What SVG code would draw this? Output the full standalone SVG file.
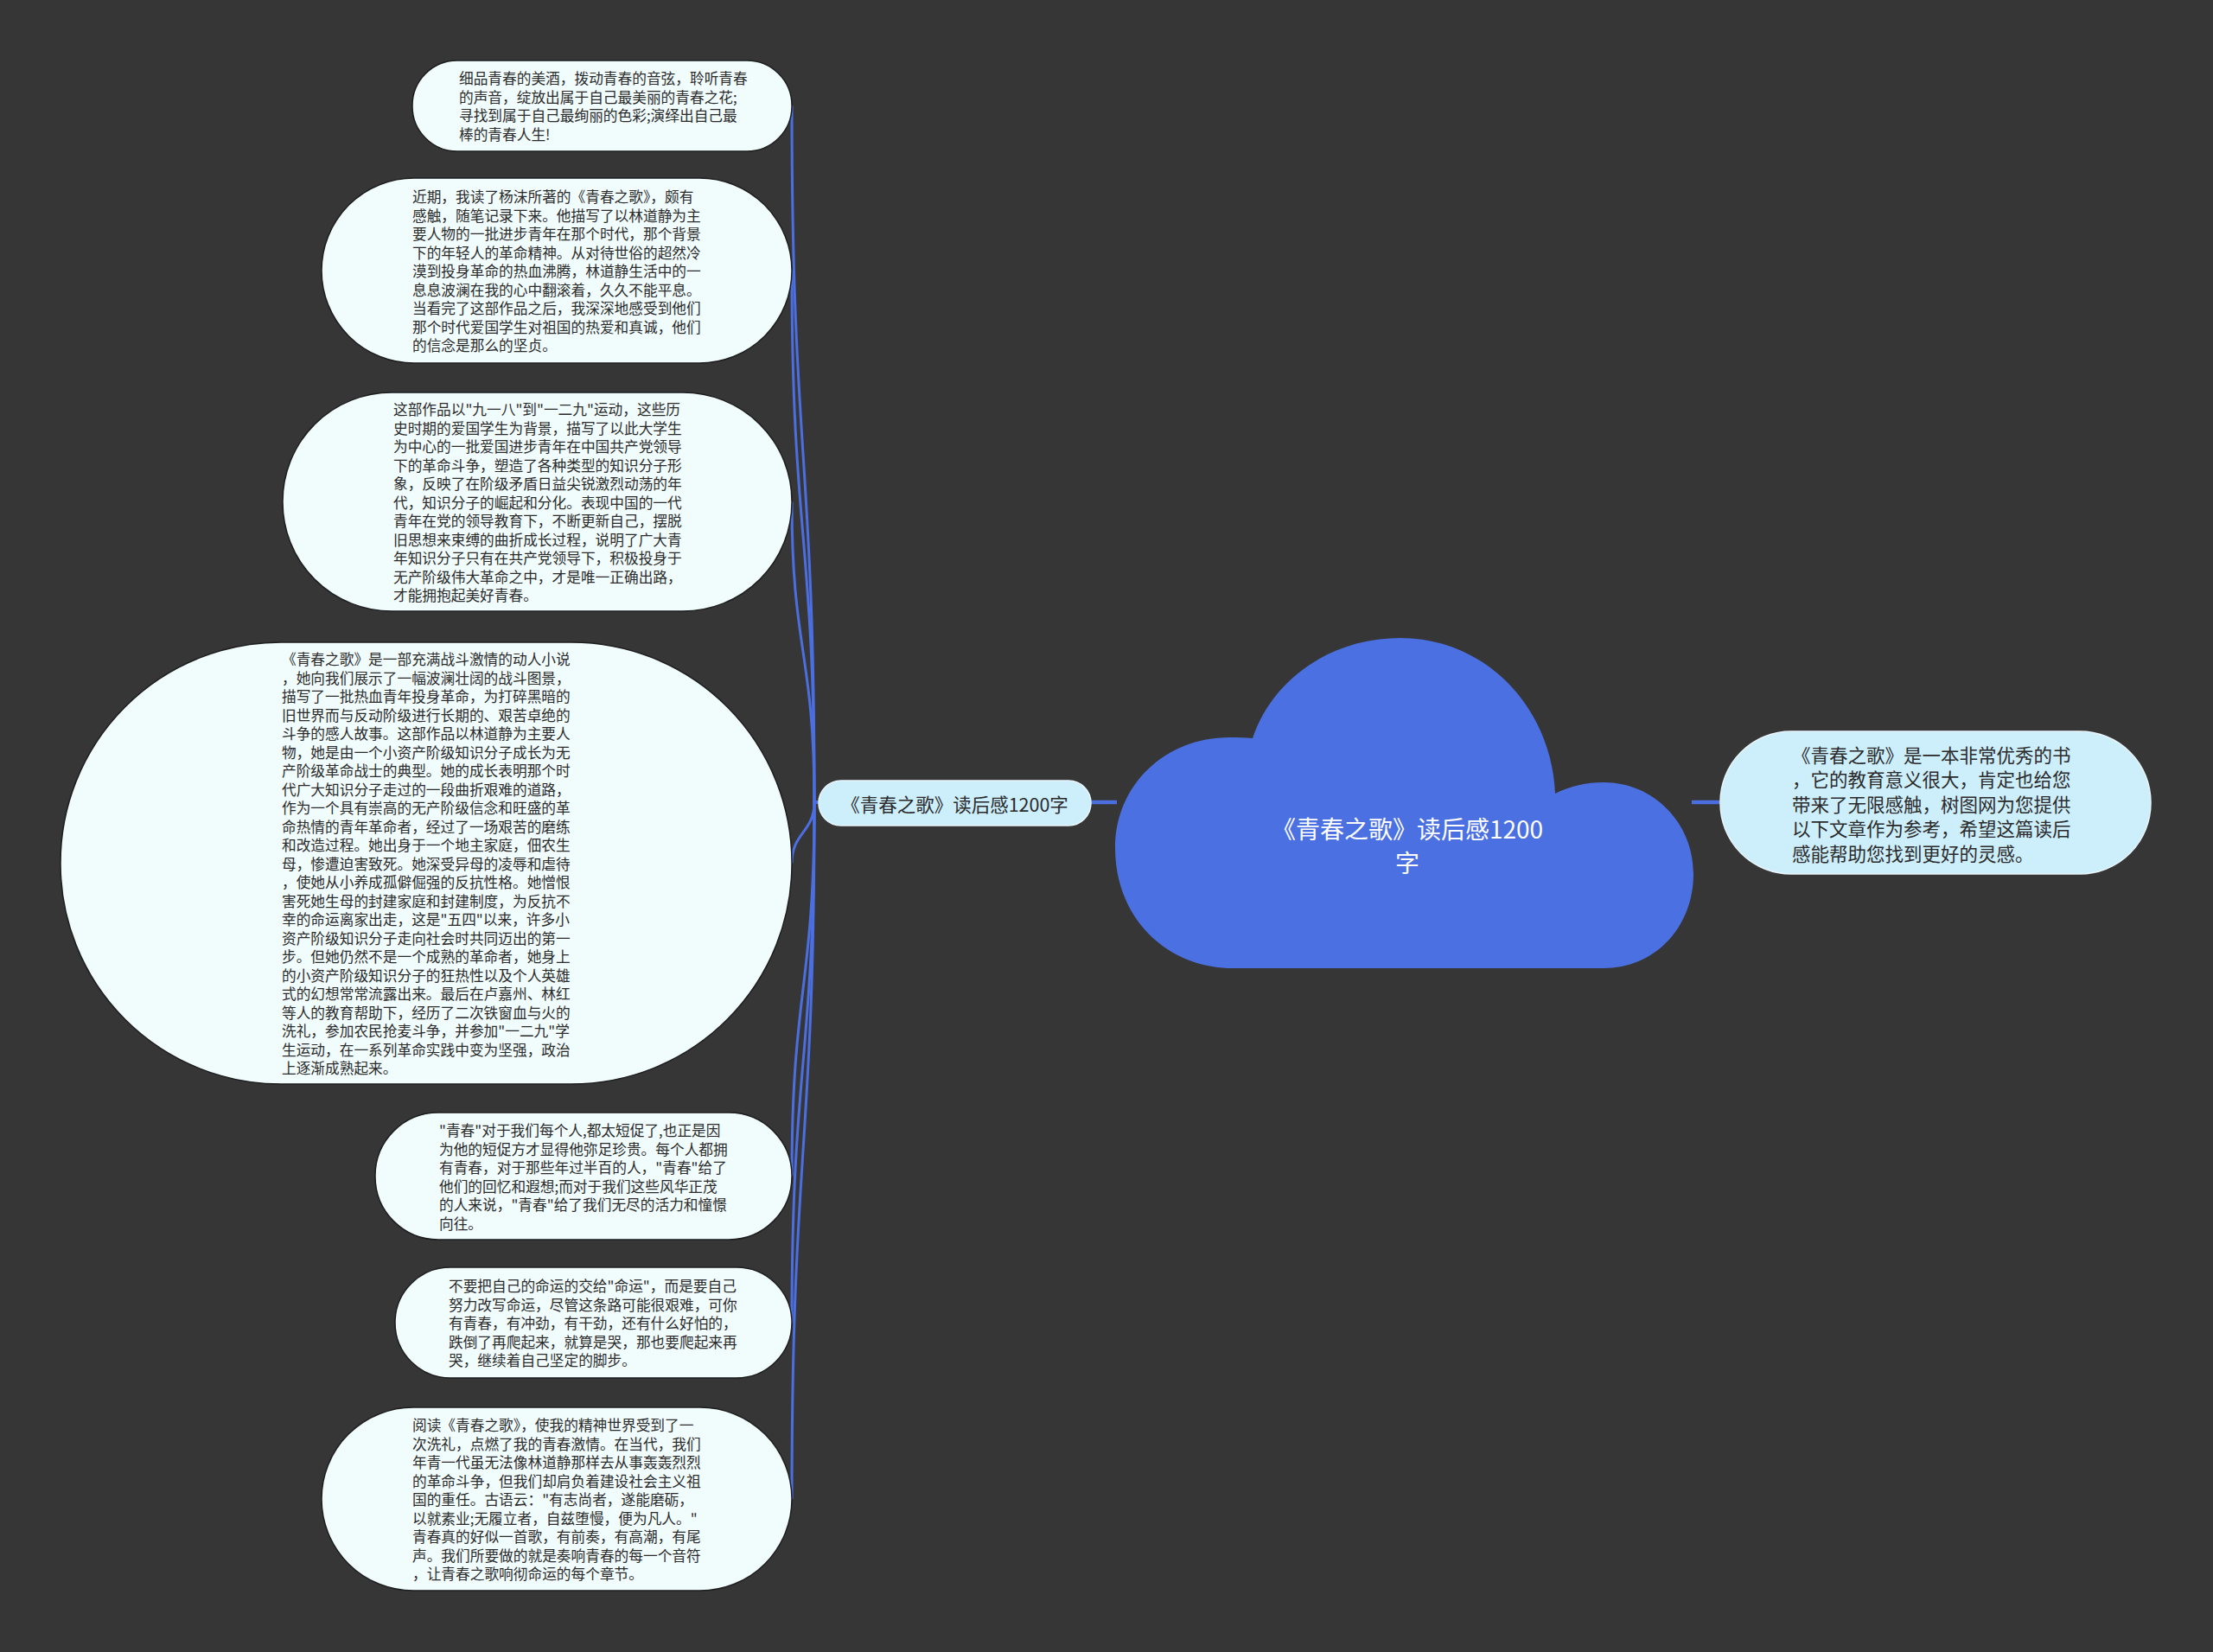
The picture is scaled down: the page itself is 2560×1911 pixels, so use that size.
<svg xmlns="http://www.w3.org/2000/svg" width="2560" height="1911" viewBox="0 0 2560 1911">
<style>
.leaf rect{fill:#f1fcfd;stroke:#1e1e1e;stroke-width:1.5}
.leaf text{font-family:"Noto Sans CJK SC","Noto Sans",sans-serif;font-size:16.7px;fill:#2b2b2b;dominant-baseline:central}
.sub rect{fill:#cdeefb;stroke:#e8f6fb;stroke-width:1.5}
.sub text{font-family:"Noto Sans CJK SC","Noto Sans",sans-serif;fill:#2b2b2b;dominant-baseline:central}
.conn path{fill:none;stroke:#4b6fe0;stroke-width:3}
.conn line{stroke:#4b6fe0;stroke-width:4.5}
</style>
<rect x="0" y="0" width="2560" height="1911" fill="#373637"/>

<g id="connectors" class="conn">
<line x1="1258" y1="928" x2="1292" y2="928"/>
<line x1="1957" y1="928" x2="1992" y2="928"/>
<path d="M947,928 L942,928 C942,525 916,525 916,122.5"/>
<path d="M947,928 L942,928 C942,620 916,620 916,313"/>
<path d="M947,928 L942,928 C942,754 916,754 916,580.5"/>
<path d="M947,928 L942,928 C942,963 916,963 916,998.5"/>
<path d="M947,928 L942,928 C942,1144 916,1144 916,1360.5"/>
<path d="M947,928 L942,928 C942,1229 916,1229 916,1530"/>
<path d="M947,928 L942,928 C942,1331 916,1331 916,1734"/>
</g>

<g id="root">
<path d="M1449,854 C1472,785 1540,738 1620,738 C1720,738 1795,820 1799,918 C1817,909 1835,905 1855,905 C1913,905 1959,952 1959,1011 C1959,1072 1915,1120 1855,1120 L1426,1120 C1350,1120 1290,1062 1290,981 C1290,908 1348,853 1422,853 C1432,853 1441,853 1449,854 Z" fill="#4b70e1"/>
<text font-family="'Noto Sans CJK SC','Noto Sans',sans-serif" font-size="28" fill="#ffffff" text-anchor="middle" dominant-baseline="central"><tspan x="1628" y="958">《青春之歌》读后感1200</tspan><tspan x="1628" y="997">字</tspan></text>
</g>

<g id="main-topic" class="sub">
<rect x="947" y="903" width="315" height="52" rx="26" ry="26"/>
<text x="1104.5" y="929" font-size="21.5" text-anchor="middle">《青春之歌》读后感1200字</text>
</g>

<g id="summary" class="sub">
<rect x="1990" y="846" width="498" height="165" rx="82" ry="82"/>
<text font-size="21.5"><tspan x="2073" y="871.5">《青春之歌》是一本非常优秀的书</tspan><tspan x="2073" y="900">，它的教育意义很大，肯定也给您</tspan><tspan x="2073" y="928.5">带来了无限感触，树图网为您提供</tspan><tspan x="2073" y="957">以下文章作为参考，希望这篇读后</tspan><tspan x="2073" y="985.5">感能帮助您找到更好的灵感。</tspan></text>
</g>

<g id="leaf1" class="leaf">
<rect x="477" y="70" width="439" height="105" rx="52" ry="52"/>
<text><tspan x="531" y="90.3">细品青春的美酒，拨动青春的音弦，聆听青春</tspan><tspan x="531" y="111.8">的声音，绽放出属于自己最美丽的青春之花;</tspan><tspan x="531" y="133.3">寻找到属于自己最绚丽的色彩;演绎出自己最</tspan><tspan x="531" y="154.8">棒的青春人生!</tspan></text>
</g>

<g id="leaf2" class="leaf">
<rect x="372" y="206" width="544" height="214" rx="107" ry="107"/>
<text><tspan x="477" y="227">近期，我读了杨沫所著的《青春之歌》，颇有</tspan><tspan x="477" y="248.5">感触，随笔记录下来。他描写了以林道静为主</tspan><tspan x="477" y="270">要人物的一批进步青年在那个时代，那个背景</tspan><tspan x="477" y="291.5">下的年轻人的革命精神。从对待世俗的超然冷</tspan><tspan x="477" y="313">漠到投身革命的热血沸腾，林道静生活中的一</tspan><tspan x="477" y="334.5">息息波澜在我的心中翻滚着，久久不能平息。</tspan><tspan x="477" y="356">当看完了这部作品之后，我深深地感受到他们</tspan><tspan x="477" y="377.5">那个时代爱国学生对祖国的热爱和真诚，他们</tspan><tspan x="477" y="399">的信念是那么的坚贞。</tspan></text>
</g>

<g id="leaf3" class="leaf">
<rect x="327" y="454" width="589" height="253" rx="126" ry="126"/>
<text><tspan x="455" y="473">这部作品以"九一八"到"一二九"运动，这些历</tspan><tspan x="455" y="494.5">史时期的爱国学生为背景，描写了以此大学生</tspan><tspan x="455" y="516">为中心的一批爱国进步青年在中国共产党领导</tspan><tspan x="455" y="537.5">下的革命斗争，塑造了各种类型的知识分子形</tspan><tspan x="455" y="559">象，反映了在阶级矛盾日益尖锐激烈动荡的年</tspan><tspan x="455" y="580.5">代，知识分子的崛起和分化。表现中国的一代</tspan><tspan x="455" y="602">青年在党的领导教育下，不断更新自己，摆脱</tspan><tspan x="455" y="623.5">旧思想来束缚的曲折成长过程，说明了广大青</tspan><tspan x="455" y="645">年知识分子只有在共产党领导下，积极投身于</tspan><tspan x="455" y="666.5">无产阶级伟大革命之中，才是唯一正确出路，</tspan><tspan x="455" y="688">才能拥抱起美好青春。</tspan></text>
</g>

<g id="leaf4" class="leaf">
<rect x="70" y="743" width="846" height="511" rx="255" ry="255"/>
<text><tspan x="326" y="762">《青春之歌》是一部充满战斗激情的动人小说</tspan><tspan x="326" y="783.5">，她向我们展示了一幅波澜壮阔的战斗图景，</tspan><tspan x="326" y="805">描写了一批热血青年投身革命，为打碎黑暗的</tspan><tspan x="326" y="826.5">旧世界而与反动阶级进行长期的、艰苦卓绝的</tspan><tspan x="326" y="848">斗争的感人故事。这部作品以林道静为主要人</tspan><tspan x="326" y="869.5">物，她是由一个小资产阶级知识分子成长为无</tspan><tspan x="326" y="891">产阶级革命战士的典型。她的成长表明那个时</tspan><tspan x="326" y="912.5">代广大知识分子走过的一段曲折艰难的道路，</tspan><tspan x="326" y="934">作为一个具有崇高的无产阶级信念和旺盛的革</tspan><tspan x="326" y="955.5">命热情的青年革命者，经过了一场艰苦的磨练</tspan><tspan x="326" y="977">和改造过程。她出身于一个地主家庭，佃农生</tspan><tspan x="326" y="998.5">母，惨遭迫害致死。她深受异母的凌辱和虐待</tspan><tspan x="326" y="1020">，使她从小养成孤僻倔强的反抗性格。她憎恨</tspan><tspan x="326" y="1041.5">害死她生母的封建家庭和封建制度，为反抗不</tspan><tspan x="326" y="1063">幸的命运离家出走，这是"五四"以来，许多小</tspan><tspan x="326" y="1084.5">资产阶级知识分子走向社会时共同迈出的第一</tspan><tspan x="326" y="1106">步。但她仍然不是一个成熟的革命者，她身上</tspan><tspan x="326" y="1127.5">的小资产阶级知识分子的狂热性以及个人英雄</tspan><tspan x="326" y="1149">式的幻想常常流露出来。最后在卢嘉州、林红</tspan><tspan x="326" y="1170.5">等人的教育帮助下，经历了二次铁窗血与火的</tspan><tspan x="326" y="1192">洗礼，参加农民抢麦斗争，并参加"一二九"学</tspan><tspan x="326" y="1213.5">生运动，在一系列革命实践中变为坚强，政治</tspan><tspan x="326" y="1235">上逐渐成熟起来。</tspan></text>
</g>

<g id="leaf5" class="leaf">
<rect x="434" y="1287" width="482" height="147" rx="73" ry="73"/>
<text><tspan x="508" y="1307">"青春"对于我们每个人,都太短促了,也正是因</tspan><tspan x="508" y="1328.5">为他的短促方才显得他弥足珍贵。每个人都拥</tspan><tspan x="508" y="1350">有青春，对于那些年过半百的人，"青春"给了</tspan><tspan x="508" y="1371.5">他们的回忆和遐想;而对于我们这些风华正茂</tspan><tspan x="508" y="1393">的人来说，"青春"给了我们无尽的活力和憧憬</tspan><tspan x="508" y="1414.5">向往。</tspan></text>
</g>

<g id="leaf6" class="leaf">
<rect x="457" y="1466" width="459" height="128" rx="64" ry="64"/>
<text><tspan x="519" y="1487">不要把自己的命运的交给"命运"，而是要自己</tspan><tspan x="519" y="1508.5">努力改写命运，尽管这条路可能很艰难，可你</tspan><tspan x="519" y="1530">有青春，有冲劲，有干劲，还有什么好怕的，</tspan><tspan x="519" y="1551.5">跌倒了再爬起来，就算是哭，那也要爬起来再</tspan><tspan x="519" y="1573">哭，继续着自己坚定的脚步。</tspan></text>
</g>

<g id="leaf7" class="leaf">
<rect x="372" y="1628" width="544" height="212" rx="106" ry="106"/>
<text><tspan x="477" y="1648">阅读《青春之歌》，使我的精神世界受到了一</tspan><tspan x="477" y="1669.5">次洗礼，点燃了我的青春激情。在当代，我们</tspan><tspan x="477" y="1691">年青一代虽无法像林道静那样去从事轰轰烈烈</tspan><tspan x="477" y="1712.5">的革命斗争，但我们却肩负着建设社会主义祖</tspan><tspan x="477" y="1734">国的重任。古语云："有志尚者，遂能磨砺，</tspan><tspan x="477" y="1755.5">以就素业;无履立者，自兹堕慢，便为凡人。"</tspan><tspan x="477" y="1777">青春真的好似一首歌，有前奏，有高潮，有尾</tspan><tspan x="477" y="1798.5">声。我们所要做的就是奏响青春的每一个音符</tspan><tspan x="477" y="1820">，让青春之歌响彻命运的每个章节。</tspan></text>
</g>
</svg>
